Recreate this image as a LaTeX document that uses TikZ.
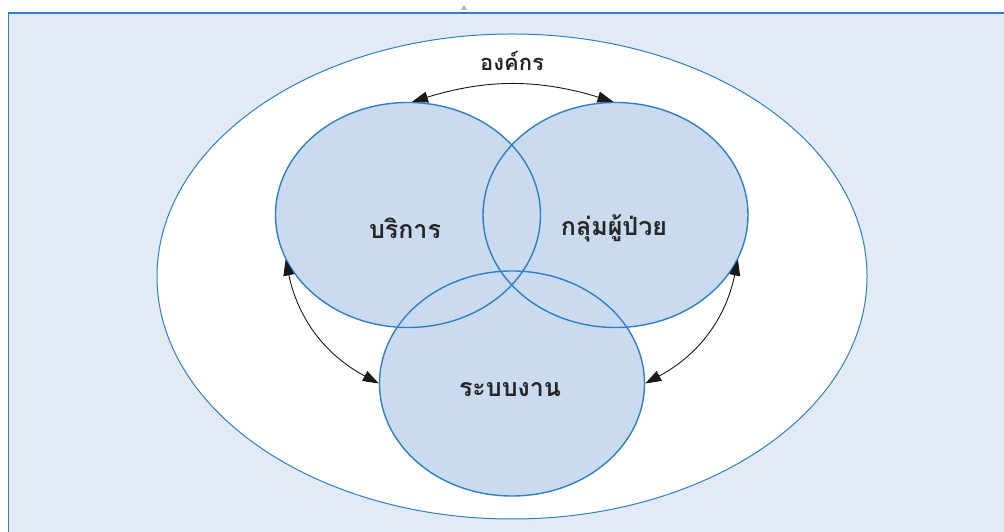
\documentclass[tikz,border=0pt]{standalone}
\usepackage{fontspec}
\newfontfamily\thai[Script=Thai]{Loma}
\usetikzlibrary{shapes.geometric,arrows.meta}
\definecolor{panel}{HTML}{E2EAF6}
\definecolor{circfill}{HTML}{CADBF0}
\definecolor{circline}{HTML}{2F7FC4}
\definecolor{txt}{HTML}{262626}
\tikzset{
  oval/.style={ellipse, inner sep=0pt, line width=1.4pt},
  ovalfill/.style={oval, fill=circfill, minimum width=265pt, minimum height=225pt},
  ovalline/.style={oval, draw=circline, minimum width=265pt, minimum height=225pt},
  lbl/.style={font=\thai\bfseries\fontsize{25}{29}\selectfont, text=txt, inner sep=0pt},
  toplbl/.style={font=\thai\bfseries\fontsize{22}{26}\selectfont, text=txt, inner sep=0pt},
  arr/.style={{Triangle[length=16pt,width=11pt]}-{Triangle[length=16pt,width=11pt]}, line width=0.9pt, draw=black!90}
}
\begin{document}
\begin{tikzpicture}[x=1pt,y=1pt]
\useasboundingbox (0,0) rectangle (1004,532);
\fill[white] (0,0) rectangle (1004,532);
\fill[panel] (8.7,0) rectangle (1004,519);
\draw[circline, line width=1.4pt] (8.7,0) -- (8.7,519) -- (1004,519);
\fill[black!30] (461,522) -- (467,522) -- (464,527) -- cycle;
% outer organisation ellipse
\node[oval, draw=circline, line width=1pt, fill=white, minimum width=710pt, minimum height=485pt] (O) at (512,255.5) {};
% fills
\node[ovalfill] (L) at (408,317) {};
\node[ovalfill] (R) at (615.5,317) {};
\node[ovalfill] (B) at (512,148.5) {};
% outlines
\node[ovalline] (Lo) at (L) {};
\node[ovalline] (Ro) at (R) {};
\node[ovalline] (Bo) at (B) {};
% labels
\node[toplbl] (tO) at (512,471) {องค์กร};
\node[lbl] (tL) at (405,304) {บริการ};
\node[lbl] (tR) at (614,304) {กลุ่มผู้ป่วย};
\node[lbl] (tB) at (510,142) {ระบบงาน};
% arrows
\draw[arr] (Lo.88) to[bend left=17] (Ro.91);
\draw[arr] (Lo.200) to[bend right=25] (Bo.180);
\draw[arr] (Ro.340) to[bend left=25] (Bo.0);
\end{tikzpicture}
\end{document}
